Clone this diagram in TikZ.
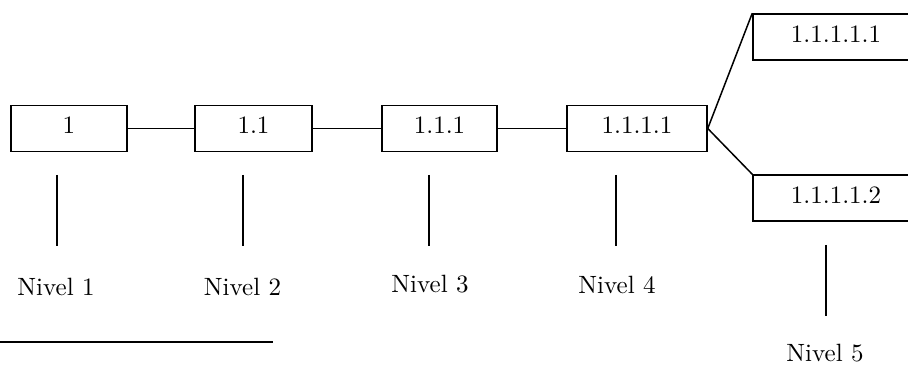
\documentclass[tikz,border=0pt]{standalone}
\begin{document}
\begin{tikzpicture}[x=0.4pt,y=-0.4pt,
  every node/.style={font=\fontsize{10pt}{12pt}\selectfont},
  box/.style={draw,line width=0.6pt,rectangle,inner sep=0pt,minimum height=18.4pt,text height=6.4pt,text depth=2pt},
  conn/.style={line width=0.6pt},
  lvl/.style={anchor=base,inner sep=0pt}]
\useasboundingbox (0,0) rectangle (908,365);
\clip (0,0) rectangle (908,365);
\node[box,minimum width=46.4pt] (b1) at (69,128.5) {1};
\node[box,minimum width=46.8pt] (b2) at (253.5,128.5) {1.1};
\node[box,minimum width=46pt] (b3) at (439.5,128.5) {1.1.1};
\node[box,minimum width=56pt] (b4) at (637,128.5) {1.1.1.1};
\node[box,minimum width=66.4pt] (b5a) at (836,37) {1.1.1.1.1};
\node[box,minimum width=66.4pt] (b5b) at (836,198) {1.1.1.1.2};
\draw[conn] (b1.east) -- (b2.west);
\draw[conn] (b2.east) -- (b3.west);
\draw[conn] (b3.east) -- (b4.west);
\draw[conn] (b4.east) -- (b5a.north west);
\draw[conn] (b4.east) -- (b5b.north west);
\coordinate (t1) at (57,175); \coordinate (u1) at (57,246);
\coordinate (t2) at (243,175); \coordinate (u2) at (243,246);
\coordinate (t3) at (429,175); \coordinate (u3) at (429,246);
\coordinate (t4) at (616,175); \coordinate (u4) at (616,246);
\coordinate (t5) at (826,245); \coordinate (u5) at (826,316);
\draw[conn] (t1) -- (u1);
\draw[conn] (t2) -- (u2);
\draw[conn] (t3) -- (u3);
\draw[conn] (t4) -- (u4);
\draw[conn] (t5) -- (u5);
\node[lvl] (n1) at (56,296) {Nivel 1};
\node[lvl] (n2) at (242.5,296) {Nivel 2};
\node[lvl] (n3) at (430,293) {Nivel 3};
\node[lvl] (n4) at (617,294) {Nivel 4};
\node[lvl] (n5) at (825,362) {Nivel 5};
\coordinate (r1) at (0,342); \coordinate (r2) at (273,342);
\draw[line width=1.1pt] (r1) -- (r2);
\end{tikzpicture}
\end{document}
